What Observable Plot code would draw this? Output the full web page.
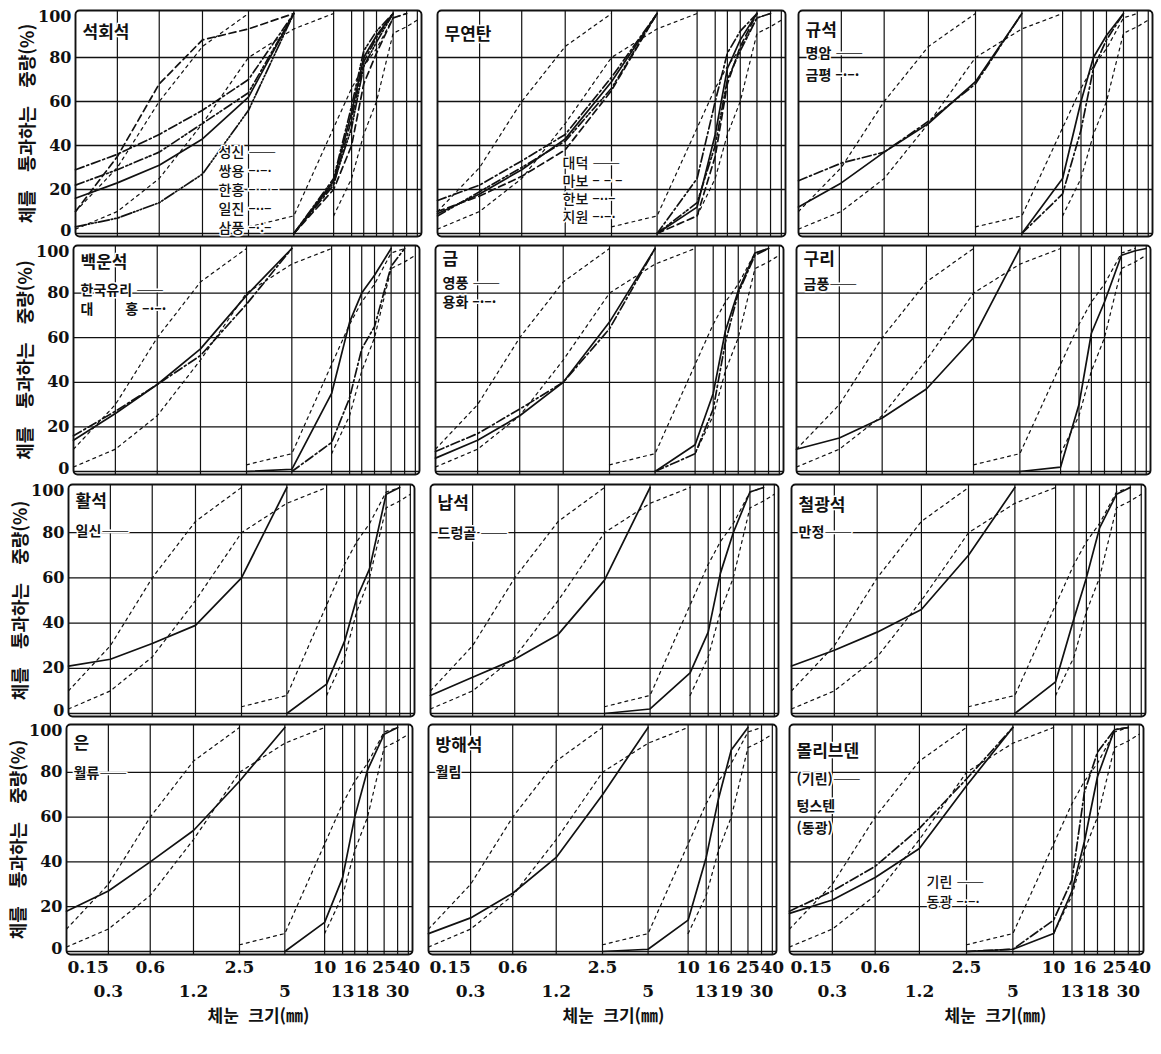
<!DOCTYPE html>
<html lang="ko"><head><meta charset="utf-8">
<script src="https://cdn.jsdelivr.net/npm/d3@7"></script>
<script src="https://cdn.jsdelivr.net/npm/@observablehq/plot@0.6"></script>
<style>
html,body{margin:0;padding:0;background:#fff;}
#chart{position:relative;width:1161px;height:1054px;overflow:hidden;background:#fff;}
#chart svg{position:absolute;overflow:visible;}
</style></head><body><div id="chart"></div>
<script>
// ---------- axes ----------
const sizes = [0.15, 0.3, 0.6, 1.2, 2.5, 5, 10, 13, 16, 18, 25, 30, 40];
const fineSizes = [0.15, 0.3, 0.6, 1.2, 2.5, 5];
const coarseSizes = [2.5, 5, 10, 13, 16, 18, 25, 30, 40];
const percentTicks = [0, 20, 40, 60, 80, 100];
const upperTickValues = [0.15, 0.6, 2.5, 10, 16, 25, 40];
const upperTickLabels = ["0.15", "0.6", "2.5", "10", "16", "25", "40"];
const lowerTickValues = [0.3, 1.2, 5, 13, 18, 30];
const lowerTickLabels = [
  ["0.3", "1.2", "5", "13", "18", "30"],
  ["0.3", "1.2", "5", "13", "19", "30"],
  ["0.3", "1.2", "5", "13", "18", "30"]
];
const yTitle = "체를　통과하는　중량(%)";
const xTitle = "체눈  크기(㎜)";

// ---------- standard grading limits (dotted), values over `sizes` ----------
const fineUpperLimit   = [10, 30, 60, 85, 100, null, null, null, null, null, null, null, null];
const fineLowerLimit   = [2, 10, 25, 50, 80, 93, 100, null, null, null, null, null, null];
const coarseUpperLimit = [null, null, null, null, 3, 8, 48, 66, 76, 84, 98, 100, null];
const coarseLowerLimit = [null, null, null, null, null, null, 8, 25, 45, 60, 91, 94, 97];

// ---------- panel data: fine over fineSizes, coarse over coarseSizes ----------
// 석회석
const limestoneNames = ["성신", "쌍용", "한홍", "일진", "삼풍"];
const limestoneFine = [[16,23,31,43,62,100],[29,36,45,56,70,100],[10,35,68,88,93,100],[22,29,37,50,64,100],[3,7,14,27,56,100]];
const limestoneCoarse = [[null,0,24,55,80,90,100,null,null],[null,0,22,52,78,89,100,null,null],[null,0,20,40,68,82,98,100,null],[null,0,25,58,83,92,100,null,null],[null,0,23,48,76,87,100,null,null]];
// 무연탄
const anthraciteNames = ["대덕", "마보", "한보", "지원"];
const anthraciteFine = [[9,18,29,43,69,100],[10,17,26,38,65,100],[8,19,30,42,66,100],[15,22,33,45,71,100]];
const anthraciteCoarse = [[null,0,12,45,75,88,100,null,null],[null,0,8,35,68,85,100,null,null],[null,0,14,40,70,83,98,100,null],[null,0,25,60,82,92,100,null,null]];
// 규석
const silicaNames = ["명암", "금평"];
const silicaFine = [[12,23,37,50,69,100],[24,32,37,51,68,100]];
const silicaCoarse = [[null,0,25,60,80,90,100,null,null],[null,0,18,47,75,88,100,null,null]];
// 백운석
const dolomiteNames = ["한국유리", "대홍"];
const dolomiteFine = [[14,26,39,55,79,100],[16,27,39,52,75,100]];
const dolomiteCoarse = [[0,1,35,67,80,88,100,null,null],[null,0,13,33,55,65,92,100,null]];
// 금
const goldNames = ["영풍", "용화"];
const goldFine = [[6,14,25,40,67,100],[9,17,28,40,64,100]];
const goldCoarse = [[null,0,12,35,63,81,98,100,null],[null,0,8,28,58,80,97,100,null]];
// 구리
const copperNames = ["금풍"];
const copperFine = [[10,15,24,37,60,100]];
const copperCoarse = [[0,0,2,30,62,76,97,99,100]];
// 활석
const talcNames = ["일신"];
const talcFine = [[21,24,31,39,60,100]];
const talcCoarse = [[null,0,13,32,51,64,97,100,null]];
// 납석
const pyrophylliteNames = ["드렁골"];
const pyrophylliteFine = [[8,16,24,35,59,100]];
const pyrophylliteCoarse = [[0,2,18,36,62,80,98,100,null]];
// 철광석
const ironNames = ["만정"];
const ironFine = [[21,28,36,46,70,100]];
const ironCoarse = [[null,0,14,42,60,82,97,100,null]];
// 은
const silverNames = ["월류"];
const silverFine = [[18,27,40,54,76,100]];
const silverCoarse = [[null,0,13,33,60,81,97,100,null]];
// 방해석
const calciteNames = ["월림"];
const calciteFine = [[8,15,26,42,70,100]];
const calciteCoarse = [[0,1,14,42,68,90,100,null,null]];
// 몰리브덴 / 텅스텐
const molyNames = ["기린", "동광"];
const molyFine = [[17,23,33,46,74,100],[18,27,38,55,77,100]];
const molyCoarse = [[0,1,8,27,49,78,99,100,null],[0,1,14,32,71,89,99,100,null]];

// ---------- styles ----------
const DASH = {solid: null, dashDot: "9,3,2,3", dashed: "7,4", dashDotDot: "9,3,2,2,2,3", dashDotDot2: "11,2,1.5,2,1.5,2,1.5,2"};
const SAMPLE = {solid: "——", dashDot: "–·–·", dashed: "– – –", dashDotDot: "–··–", dashDotDot2: "–·:–"};
const KFONT = "'Noto Sans CJK KR', 'Noto Sans', sans-serif";
const NFONT = "'DejaVu Serif', 'Liberation Serif', serif";
const INK = "#111";

// layout
const colLeft = [71, 433, 794];
const colWidth = [346, 348, 354];
const rowShift = [4, 2, -3, -5];
const rowTop = [10, 245, 484, 724];
const rowHeight = [226, 229, 232, 230];
const tickFrac = [0, .121, .242, .367, .50, .631, .746, .798, .833, .870, .918, .957, .988];

const panels = [
  {names: limestoneNames, fine: limestoneFine, coarse: limestoneCoarse, styles: ["solid","dashDot","dashed","dashDotDot","dashDotDot2"],
   head: ["석회석"], headY: [22], legend: true, legendX: 143, legendY: 142, legendStep: 19},
  {names: anthraciteNames, fine: anthraciteFine, coarse: anthraciteCoarse, styles: ["solid","dashed","dashDotDot","dashDot"],
   head: ["무연탄"], headY: [24], legend: true, legendX: 125, legendY: 153, legendStep: 18},
  {names: silicaNames, fine: silicaFine, coarse: silicaCoarse, styles: ["solid","dashDot"],
   head: ["규석", "명암 " + SAMPLE.solid, "금평 " + SAMPLE.dashDot], headY: [20, 43, 65]},
  {names: dolomiteNames, fine: dolomiteFine, coarse: dolomiteCoarse, styles: ["solid","dashDot"],
   head: ["백운석", "한국유리 " + SAMPLE.solid, "대　　 홍 " + SAMPLE.dashDot], headY: [17, 45, 64]},
  {names: goldNames, fine: goldFine, coarse: goldCoarse, styles: ["solid","dashDot"],
   head: ["금", "영풍 " + SAMPLE.solid, "용화 " + SAMPLE.dashDot], headY: [14, 38, 57]},
  {names: copperNames, fine: copperFine, coarse: copperCoarse, styles: ["solid"],
   head: ["구리", "금풍" + SAMPLE.solid], headY: [14, 39]},
  {names: talcNames, fine: talcFine, coarse: talcCoarse, styles: ["solid"],
   head: ["활석", "일신" + SAMPLE.solid], headY: [17, 47]},
  {names: pyrophylliteNames, fine: pyrophylliteFine, coarse: pyrophylliteCoarse, styles: ["solid"],
   head: ["납석", "드렁골 " + SAMPLE.solid], headY: [19, 49]},
  {names: ironNames, fine: ironFine, coarse: ironCoarse, styles: ["solid"],
   head: ["철광석", "만정" + SAMPLE.solid], headY: [21, 48]},
  {names: silverNames, fine: silverFine, coarse: silverCoarse, styles: ["solid"],
   head: ["은", "월류" + SAMPLE.solid], headY: [19, 49]},
  {names: calciteNames, fine: calciteFine, coarse: calciteCoarse, styles: ["solid"],
   head: ["방해석", "월림"], headY: [21, 48]},
  {names: molyNames, fine: molyFine, coarse: molyCoarse, styles: ["solid","dashDot"],
   head: ["몰리브덴", "(기린)" + SAMPLE.solid, "텅스텐", "(동광)"], headY: [27, 55, 82, 104],
   legend: true, legendX: 137, legendY: 158, legendStep: 20}
];

const toRows = (xs, ys) => xs.map((x, i) => ({x, y: ys[i]})).filter(d => d.y != null);

const chart = document.getElementById("chart");

panels.forEach((p, k) => {
  const r = Math.floor(k / 3), c = k % 3;
  const W = colWidth[c], H = rowHeight[r];
  const mL = c === 0 ? 78 : 8, mR = 8, mT = 8, mB = r === 3 ? 92 : 8;
  const left = colLeft[c] + rowShift[r], top = rowTop[r];

  const marks = [
    Plot.ruleY([0, 20, 40, 60, 80], {stroke: INK, strokeWidth: 1.3}),
    Plot.ruleX(sizes.slice(1), {stroke: INK, strokeWidth: 1.2}),
    Plot.frame({stroke: INK, strokeWidth: 1.9, rx: 4, ry: 4})
  ];
  // standard limits
  for (const lim of [fineUpperLimit, fineLowerLimit, coarseUpperLimit, coarseLowerLimit]) {
    marks.push(Plot.line(toRows(sizes, lim), {x: "x", y: "y", stroke: INK, strokeWidth: 1.2, strokeDasharray: "3,4"}));
  }
  // series
  p.names.forEach((name, i) => {
    const dash = DASH[p.styles[i]];
    const opts = {x: "x", y: "y", stroke: INK, strokeWidth: 1.7, strokeLinejoin: "round"};
    if (dash) opts.strokeDasharray = dash;
    marks.push(Plot.line(toRows(fineSizes, p.fine[i]), opts));
    marks.push(Plot.line(toRows(coarseSizes, p.coarse[i]), opts));
  });
  // heading lines
  p.head.forEach((t, i) => {
    marks.push(Plot.text([t], {frameAnchor: "top-left", dx: 7, dy: p.headY[i], textAnchor: "start", lineAnchor: "middle",
      fontSize: i === 0 ? 17 : 14, fontWeight: i === 0 ? 700 : 600, fontFamily: KFONT, fill: INK,
      stroke: "white", strokeWidth: 3, paintOrder: "stroke"}));
  });
  // legend block
  if (p.legend) {
    p.names.forEach((name, i) => {
      marks.push(Plot.text([name + " " + SAMPLE[p.styles[i]]], {frameAnchor: "top-left", dx: p.legendX, dy: p.legendY + i * p.legendStep,
        textAnchor: "start", lineAnchor: "middle", fontSize: 14, fontWeight: 500, fontFamily: KFONT, fill: INK,
        stroke: "white", strokeWidth: 3, paintOrder: "stroke"}));
    });
  }
  // y axis (left column)
  if (c === 0) {
    const tickStyle = {y: d => d, text: d => String(d), frameAnchor: "left", textAnchor: "end", dx: -4,
      fontSize: 16, fontWeight: 700, fontFamily: NFONT, fill: INK};
    marks.push(Plot.text(percentTicks.slice(1, 5), tickStyle));
    marks.push(Plot.text(percentTicks.slice(0, 1), {...tickStyle, dy: -3}));
    marks.push(Plot.text(percentTicks.slice(5), {...tickStyle, dy: 3}));
    marks.push(Plot.text([yTitle], {frameAnchor: "left", textAnchor: "middle", lineAnchor: "middle", rotate: -90, dx: -47,
      fontSize: 18, fontWeight: 700, fontFamily: KFONT, fill: INK}));
  }
  // x axis (bottom row)
  if (r === 3) {
    const xt = {x: d => d, frameAnchor: "bottom", fontSize: 17, fontWeight: 700, fontFamily: NFONT, fill: INK};
    marks.push(Plot.text(upperTickValues.slice(0, 1), {...xt, text: () => upperTickLabels[0], dy: 18, dx: 1, textAnchor: "start"}));
    marks.push(Plot.text(upperTickValues.slice(1), {...xt, text: (d, i) => upperTickLabels[i + 1], dy: 18}));
    marks.push(Plot.text(lowerTickValues, {...xt, text: (d, i) => lowerTickLabels[c][i], dy: 42}));
    marks.push(Plot.text([xTitle], {frameAnchor: "bottom", dy: 67, dx: [19, 11, 29][c], fontSize: 17, fontWeight: 700, fontFamily: KFONT, fill: INK}));
  }

  const svg = Plot.plot({
    width: W + mL + mR,
    height: H + mT + mB,
    marginLeft: mL, marginRight: mR, marginTop: mT, marginBottom: mB,
    x: {type: "linear", domain: sizes, range: tickFrac.map(f => mL + f * W), axis: null},
    y: {domain: [0, 100], range: [mT + H - 3, mT + 3], axis: null},
    style: {background: "transparent", fontFamily: KFONT, overflow: "visible"},
    marks
  });
  svg.style.position = "absolute";
  svg.style.left = (left - mL) + "px";
  svg.style.top = (top - mT) + "px";
  chart.appendChild(svg);
});
</script></body></html>
